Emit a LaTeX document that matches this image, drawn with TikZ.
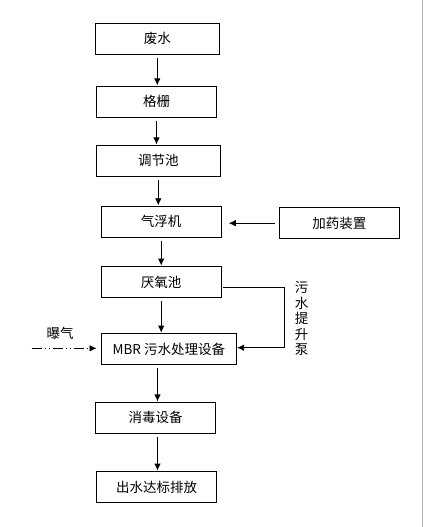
\documentclass[tikz,border=0pt]{standalone}
\usepackage{fontspec}
\setmainfont{Noto Sans CJK SC}
\usepackage{tikz}
\usetikzlibrary{calc,arrows.meta}

\begin{document}
\begin{tikzpicture}[x=1pt, y=-1pt,
        box/.style={draw, line width=0.8pt, minimum height=31pt, inner sep=0pt, font=\fontsize{13.5}{15}\selectfont},
        tip/.style={-{Latex[length=7pt,width=6.5pt]}},
        flow/.style={tip, line width=0.8pt, shorten <=3pt, shorten >=0.5pt},
        label/.style={inner sep=0pt, font=\fontsize{13.5}{15.5}\selectfont}]

        \useasboundingbox (0,0) rectangle (429,527);
        \fill[white] (0,0) rectangle (429,527);
        \draw[gray!60, line width=0.8pt] (422.7,0) -- (422.7,527);

        \node[box, minimum width=124pt] (feishui) at (157.3,38.7) {废水};
        \node[box, minimum width=120.4pt] (geshan) at (156.5,101.8) {格栅};
        \node[box, minimum width=124pt] (tiaojie) at (158.3,160.8) {调节池};
        \node[box, minimum width=120.3pt] (qifu) at (161.2,221.7) {气浮机};
        \node[box, minimum width=120pt] (jiayao) at (339.3,223.2) {加药装置};
        \node[box, minimum width=120.3pt] (yanyang) at (161.2,282) {厌氧池};
        \node[box, minimum width=135.7pt] (mbr) at (168.8,349) {MBR 污水处理设备};
        \node[box, minimum width=120.4pt] (xiaodu) at (155.5,417.8) {消毒设备};
        \node[box, minimum width=120.4pt] (chushui) at (156.5,487) {出水达标排放};

        \draw[flow] (feishui.south) -- (feishui.south |- geshan.north);
        \draw[flow] (geshan.south) -- (geshan.south |- tiaojie.north);
        \draw[flow] (tiaojie.south) -- (tiaojie.south |- qifu.north);
        \draw[flow] (qifu.south) -- (qifu.south |- yanyang.north);
        \draw[flow] (yanyang.south) -- (yanyang.south |- mbr.north);
        \draw[flow] (mbr.south -| xiaodu.north) ++(2,0) coordinate (m1) -- (m1 |- xiaodu.north);
        \draw[flow] (xiaodu.south) ++(2,0) coordinate (x1) -- (x1 |- chushui.north);

        \draw[flow, shorten <=4pt, shorten >=7pt] (jiayao.west) -- (qifu.east |- jiayao.west);

        % 污水提升泵
        \coordinate (bend1) at (284,287.3);
        \coordinate (bend2) at (284,347.7);
        \draw[tip, line width=0.8pt, shorten <=1.5pt] (yanyang.east |- bend1) -- (bend1) -- (bend2) -- (mbr.east |- bend2);
        \node[label, align=center] (beng) at (301.5,318.5) {污\\水\\提\\升\\泵};

        % 曝气
        \coordinate (air) at (31.7,348.3);
        \node[label] (baoqi) at (60,333) {曝气};
        \draw[tip, line width=0.8pt, dash pattern=on 10pt off 3pt on 1pt off 3pt on 1pt off 3pt, shorten >=4pt] (air) -- (mbr.west |- air);

\end{tikzpicture}
\end{document}
